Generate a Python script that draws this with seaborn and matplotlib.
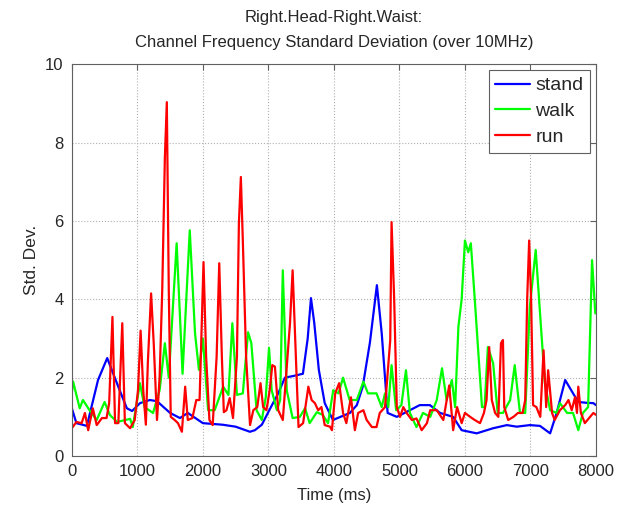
import pandas as pd
import matplotlib
matplotlib.use("Agg")
import matplotlib.pyplot as plt
import seaborn as sns

# stand (blue)
stand_t = [0, 70, 230, 400, 540, 730, 840, 920, 1040, 1190, 1300, 1500, 1650, 1770, 2000,
           2300, 2500, 2718, 2794, 2900, 3023, 3150, 3252, 3400, 3527, 3600, 3650, 3700,
           3770, 3860, 3985, 4100, 4244, 4350, 4440, 4550, 4656, 4730, 4820, 4960, 5160,
           5310, 5465, 5620, 5820, 5950, 6180, 6430, 6640, 6790, 6990, 7145, 7300, 7400,
           7530, 7650, 7730, 7850, 7960, 8000]
stand_v = [1.22, 0.84, 0.77, 1.94, 2.5, 1.68, 1.22, 1.15, 1.35, 1.43, 1.4, 1.1, 0.97, 1.1, 0.84,
           0.8, 0.75, 0.62, 0.66, 0.8, 1.2, 1.6, 2.0, 2.05, 2.1, 3.0, 4.03, 3.4,
           2.2, 1.35, 0.92, 1.0, 1.1, 1.3, 1.77, 2.9, 4.36, 3.13, 1.1, 1.0, 1.17,
           1.3, 1.3, 1.1, 1.0, 0.66, 0.58, 0.71, 0.79, 0.75, 0.79, 0.77, 0.58, 1.1,
           1.94, 1.6, 1.38, 1.36, 1.35, 1.3]

# walk (green)
walk_t = [0, 20, 120, 170, 270, 380, 500, 580, 690, 890, 930, 1040, 1110, 1240, 1340, 1420,
          1480, 1600, 1690, 1800, 1880, 1940, 2000, 2080, 2180, 2310, 2390, 2450, 2520, 2610,
          2690, 2740, 2820, 2900, 2960, 3010, 3050, 3130, 3180, 3220, 3280, 3370, 3480, 3560,
          3630, 3740, 3830, 3910, 3990, 4070, 4140, 4240, 4350, 4450, 4520, 4650, 4730, 4780,
          4830, 4880, 4950, 5030, 5100, 5160, 5260, 5360, 5470, 5570, 5650, 5720, 5800, 5850,
          5900, 5950, 6000, 6050, 6090, 6150, 6260, 6300, 6350, 6430, 6500, 6580, 6690, 6760,
          6840, 6920, 6990, 7080, 7150, 7220, 7300, 7400, 7450, 7560, 7650, 7730, 7800, 7880,
          7940, 7990]
walk_v = [1.6, 1.9, 1.22, 1.43, 1.17, 0.92, 1.38, 1.05, 0.87, 0.95, 0.74, 1.86, 1.25, 1.1, 1.68, 2.88,
          2.0, 5.43, 2.1, 5.76, 3.14, 2.2, 3.0, 1.17, 1.17, 1.77, 1.56, 3.39, 1.56, 1.6,
          3.16, 2.88, 1.17, 0.92, 1.5, 2.76, 1.68, 1.17, 1.43, 4.74, 1.68, 0.97, 1.0, 1.22,
          0.84, 1.12, 1.05, 0.84, 1.68, 1.6, 2.0, 1.43, 1.43, 1.9, 1.6, 1.6, 1.25, 1.6,
          1.25, 2.32, 1.17, 1.3, 2.19, 1.1, 0.74, 1.1, 1.0, 1.43, 2.24, 1.43, 1.94, 1.25,
          3.3, 4.0, 5.5, 5.2, 5.43, 4.0, 1.25, 1.25, 2.78, 2.37, 1.1, 1.1, 1.43, 2.32,
          1.1, 1.1, 3.8, 5.26, 3.55, 1.86, 1.17, 1.1, 1.35, 1.1, 1.1, 0.66, 1.1, 1.25,
          5.0, 3.64]

# run (red)
run_t = [0, 70, 150, 200, 250, 320, 380, 460, 530, 570, 620, 660, 710, 770, 810, 890, 960,
         1010, 1050, 1090, 1130, 1160, 1210, 1250, 1300, 1340, 1380, 1420, 1450, 1480, 1510,
         1570, 1620, 1680, 1730, 1770, 1840, 1900, 1950, 2010, 2050, 2100, 2150, 2210, 2250,
         2290, 2320, 2360, 2410, 2460, 2520, 2550, 2580, 2610, 2660, 2720, 2770, 2830, 2880,
         2920, 2970, 3020, 3060, 3100, 3150, 3220, 3280, 3330, 3370, 3410, 3460, 3530, 3610,
         3660, 3710, 3760, 3810, 3860, 3940, 3970, 4020, 4080, 4140, 4190, 4260, 4320, 4370,
         4450, 4500, 4580, 4650, 4700, 4780, 4860, 4880, 4920, 4960, 5010, 5060, 5110, 5190,
         5260, 5340, 5420, 5470, 5570, 5670, 5760, 5820, 5880, 5950, 6000, 6080, 6150, 6230,
         6290, 6330, 6370, 6410, 6460, 6510, 6550, 6580, 6600, 6660, 6740, 6810, 6880, 6920,
         6950, 6980, 7010, 7040, 7090, 7150, 7200, 7240, 7270, 7330, 7370, 7450, 7530, 7580,
         7630, 7680, 7710, 7730, 7770, 7830, 7910, 7960, 8000]
run_v = [0.71, 0.87, 0.84, 1.1, 0.66, 1.22, 0.79, 0.97, 0.97, 1.35, 3.55, 0.84, 0.84, 3.39, 0.84, 0.71, 0.92,
         1.68, 3.2, 1.68, 0.8, 2.37, 4.15, 2.88, 0.92, 2.0, 4.23, 7.6, 9.03, 4.2, 1.0,
         0.92, 0.84, 0.62, 1.77, 0.92, 0.97, 1.43, 1.43, 4.95, 2.53, 0.92, 0.79, 2.53, 4.92,
         2.53, 1.12, 1.17, 1.48, 0.97, 2.53, 5.94, 7.12, 5.5, 2.53, 0.79, 1.17, 1.25, 1.86,
         1.25, 1.17, 1.68, 2.32, 2.28, 1.17, 0.92, 2.28, 3.39, 4.74, 2.96, 0.74, 0.84, 1.77,
         1.43, 1.35, 1.17, 1.25, 0.79, 0.75, 0.66, 1.6, 1.86, 1.1, 0.84, 1.5, 0.66, 1.1,
         1.17, 0.92, 0.74, 0.74, 1.1, 1.25, 2.96, 5.97, 4.0, 1.25, 1.0, 1.25, 1.1, 0.92,
         0.96, 0.66, 0.84, 1.17, 1.17, 0.92, 1.8, 0.66, 1.25, 0.84, 1.1, 1.0, 0.92, 0.84,
         1.1, 1.43, 2.78, 1.43, 1.1, 1.0, 2.88, 2.96, 1.25, 0.92, 1.0, 1.1, 1.1, 1.43,
         4.0, 5.5, 4.0, 1.3, 1.25, 1.0, 2.7, 1.25, 2.19, 1.1, 0.92, 1.17, 1.3, 1.43,
         1.17, 1.5, 1.1, 1.77, 1.1, 0.84, 1.0, 1.1, 1.05]

frames = []
for name, t, v in [("stand", stand_t, stand_v), ("walk", walk_t, walk_v), ("run", run_t, run_v)]:
    frames.append(pd.DataFrame({"Time": t, "StdDev": v, "activity": name}))
df = pd.concat(frames, ignore_index=True)

sns.set_style("white")
plt.rcParams["font.family"] = ["Liberation Sans", "DejaVu Sans"]

fig = plt.figure(figsize=(6.3, 5.09), dpi=100)
ax = fig.add_axes([0.114, 0.104, 0.832, 0.770])

sns.lineplot(data=df, x="Time", y="StdDev", hue="activity", estimator=None, sort=False,
             palette={"stand": "#0000ff", "walk": "#00ff00", "run": "#ff0000"},
             linewidth=1.6, ax=ax)

edge = "#606060"
ax.set_xlim(0, 8000)
ax.set_ylim(0, 10)
ax.set_xticks(range(0, 8001, 1000))
ax.set_yticks([0, 2, 4, 6, 8, 10])
ax.grid(True, linestyle=":", color="#b0b0b0", linewidth=0.8)
for s in ax.spines.values():
    s.set_color(edge)
    s.set_linewidth(0.8)
ax.tick_params(direction="in", length=4, labelsize=12, top=True, right=True,
               color=edge, pad=6)

ax.set_xlabel("Time (ms)", fontsize=12, labelpad=6)
ax.set_ylabel("Std. Dev.", fontsize=12.5)
ax.set_title("Right.Head-Right.Waist:\nChannel Frequency Standard Deviation (over 10MHz)",
             fontsize=12, linespacing=1.9, pad=12)

leg = ax.legend(loc="upper right", fontsize=14, fancybox=False, framealpha=1,
                edgecolor=edge, handlelength=1.8, handletextpad=0.25,
                labelspacing=0.42, borderpad=0.35, borderaxespad=0.3)
leg.get_frame().set_linewidth(0.8)

fig.savefig("out.png", dpi=100)
